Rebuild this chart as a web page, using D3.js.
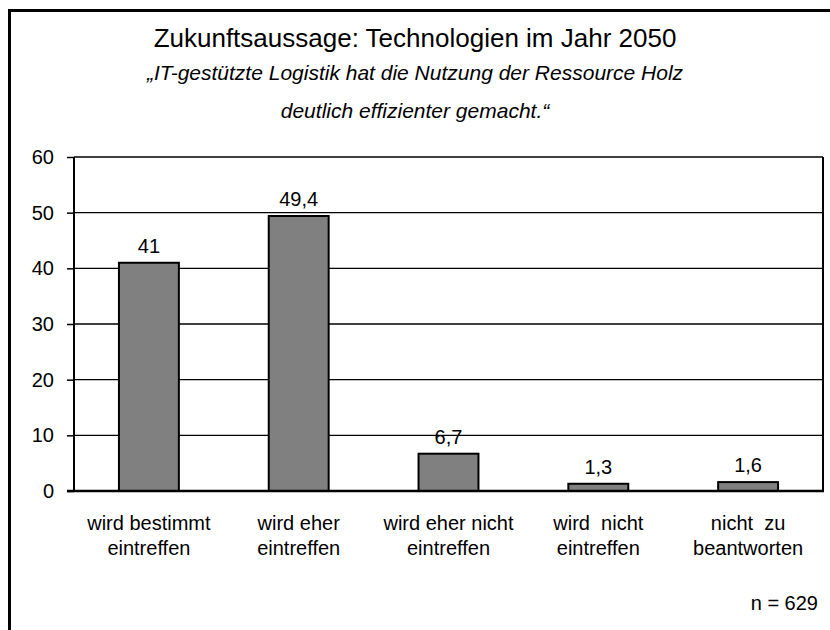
<!DOCTYPE html>
<html>
<head>
<meta charset="utf-8">
<script src="https://cdn.jsdelivr.net/npm/d3@7"></script>
<style>
	body { margin: 0; background: #fff; }
	svg text { font-family: "Liberation Sans", Arial, sans-serif; fill: #000; }
</style>
</head>
<body>
<div id="chart"></div>
<script>
// chart data
var categories = [
	["wird bestimmt", "eintreffen"],
	["wird eher", "eintreffen"],
	["wird eher nicht", "eintreffen"],
	["wird  nicht", "eintreffen"],
	["nicht  zu", "beantworten"]
];
var values = [41, 49.4, 6.7, 1.3, 1.6];
var valueLabels = ["41", "49,4", "6,7", "1,3", "1,6"];
var yTicks = [0, 10, 20, 30, 40, 50, 60];

var titleText = "Zukunftsaussage: Technologien im Jahr 2050";
var subtitleLines = ["\u201EIT-gestützte Logistik hat die Nutzung der Ressource Holz", "deutlich effizienter gemacht.\u201C"];
var noteText = "n = 629";

var width = 830, height = 630;

var svg = d3.select("#chart").append("svg")
	.attr("width", width)
	.attr("height", height);

// outer frame (only left and top visible)
svg.append("rect")
	.attr("x", 9.5).attr("y", 10.5)
	.attr("width", 840).attr("height", 640)
	.attr("fill", "none")
	.attr("stroke", "#000")
	.attr("stroke-width", 3);

// titles
svg.append("text")
	.attr("x", 415).attr("y", 47)
	.attr("text-anchor", "middle")
	.style("font-size", "26px")
	.text(titleText);

svg.selectAll(".subtitle")
	.data(subtitleLines)
	.enter()
		.append("text")
			.attr("class", "subtitle")
			.attr("x", 415)
			.attr("y", function(d, i){ return 80 + i * 38; })
			.attr("text-anchor", "middle")
			.style("font-size", "21px")
			.style("font-style", "italic")
			.text(function(d){ return d; });

var plot = {left: 74, right: 823, top: 157, bottom: 491};

var x = d3.scaleBand()
	.domain(d3.range(categories.length))
	.range([plot.left, plot.right])
	.paddingInner(0.6)
	.paddingOuter(0.3);

var y = d3.scaleLinear()
	.domain([0, 60])
	.range([plot.bottom, plot.top]);

// gridlines
svg.append("g")
	.selectAll("line")
	.data(yTicks.slice(1))
	.enter()
		.append("line")
			.attr("x1", plot.left).attr("x2", plot.right)
			.attr("y1", function(d){ return y(d); })
			.attr("y2", function(d){ return y(d); })
			.attr("stroke", "#000")
			.attr("stroke-width", 1.3);

// right border of plot area
svg.append("line")
	.attr("x1", plot.right).attr("x2", plot.right)
	.attr("y1", plot.top).attr("y2", plot.bottom)
	.attr("stroke", "#000")
	.attr("stroke-width", 2);

// y axis
var yAxis = svg.append("g")
	.attr("transform", "translate(" + plot.left + ",0)")
	.call(d3.axisLeft(y).tickValues(yTicks).tickSize(7).tickPadding(13));

yAxis.select(".domain").attr("stroke-width", 2).attr("d", "M0," + plot.top + "V" + plot.bottom);
yAxis.selectAll(".tick line").attr("stroke-width", 1.5);
yAxis.selectAll(".tick text")
	.style("font-size", "20px")
	.attr("fill", "#000")
	.attr("font-family", null);

// bars
svg.append("g")
	.selectAll("rect")
	.data(values)
	.enter()
		.append("rect")
			.attr("x", function(d, i){ return x(i); })
			.attr("y", function(d){ return y(d); })
			.attr("width", x.bandwidth())
			.attr("height", function(d){ return y(0) - y(d); })
			.attr("fill", "#808080")
			.attr("stroke", "#000")
			.attr("stroke-width", 2);

// x axis baseline
svg.append("line")
	.attr("x1", plot.left - 7).attr("x2", plot.right + 1)
	.attr("y1", plot.bottom).attr("y2", plot.bottom)
	.attr("stroke", "#000")
	.attr("stroke-width", 2.5);

// value labels
svg.append("g")
	.selectAll("text")
	.data(values)
	.enter()
		.append("text")
			.attr("x", function(d, i){ return x(i) + x.bandwidth() / 2; })
			.attr("y", function(d){ return y(d) - 10; })
			.attr("text-anchor", "middle")
			.style("font-size", "20px")
			.text(function(d, i){ return valueLabels[i]; });

// category labels
var catGroups = svg.append("g")
	.selectAll("text")
	.data(categories)
	.enter()
		.append("text")
			.attr("text-anchor", "middle")
			.style("font-size", "20px");

catGroups.selectAll("tspan")
	.data(function(d, i){ return d.map(function(line){ return {line: line, i: i}; }); })
	.enter()
		.append("tspan")
			.attr("x", function(d){ return x(d.i) + x.bandwidth() / 2; })
			.attr("y", function(d, j){ return 530 + j * 25; })
			.style("white-space", "pre")
			.text(function(d){ return d.line; });

svg.append("text")
	.attr("x", 818).attr("y", 610)
	.attr("text-anchor", "end")
	.style("font-size", "20px")
	.text(noteText);
</script>
</body>
</html>
